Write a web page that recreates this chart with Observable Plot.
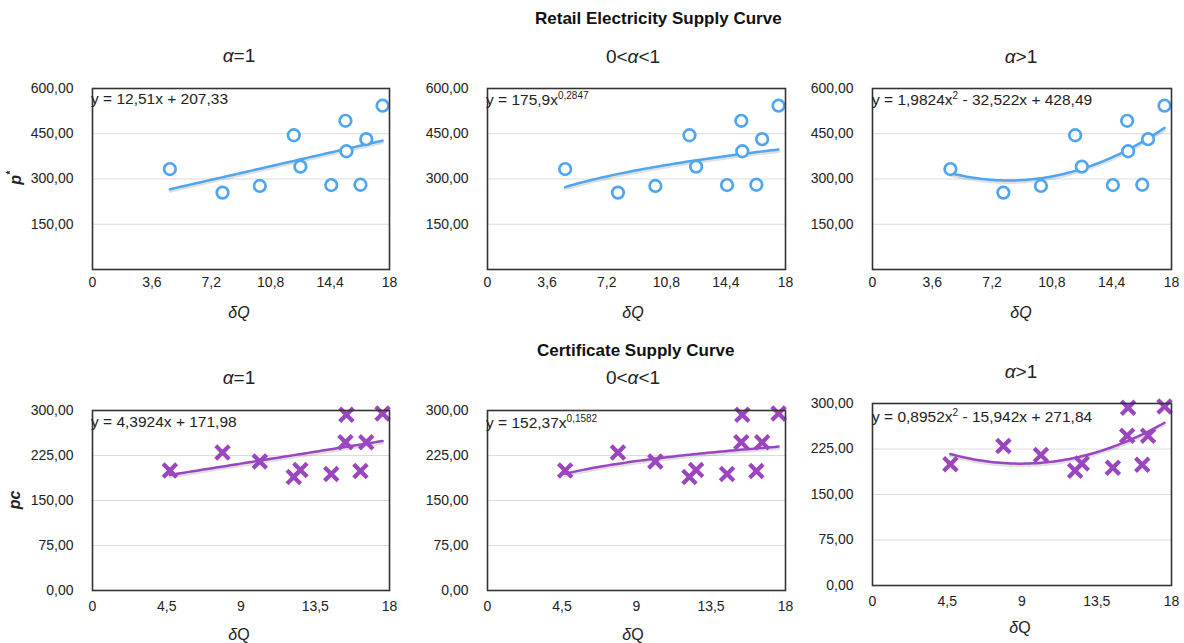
<!DOCTYPE html>
<html>
<head>
<meta charset="utf-8">
<script src="https://cdn.jsdelivr.net/npm/d3@7"></script>
<script src="https://cdn.jsdelivr.net/npm/@observablehq/plot@0.6"></script>
<style>
  html, body { margin: 0; padding: 0; background: #fff; }
  #root { position: relative; width: 1184px; height: 643px; font-family: "Liberation Sans", Arial, sans-serif; color: #222; overflow: hidden; }
  .abs { position: absolute; white-space: nowrap; }
  .c { transform: translate(-50%, -50%); }
  .title { font-weight: bold; font-size: 17px; transform: translateY(-50%); color: #111; }
  .sub { font-size: 19px; }
  .xl { font-size: 16px; }
  .eq { font-size: 15.5px; transform: translateY(-50%); }
  .eq sup { font-size: 10px; vertical-align: 6px; }
  .yl { font-size: 16px; font-weight: bold; font-style: italic; transform: translate(-50%, -50%) rotate(-90deg); }
  svg { overflow: visible; }
</style>
</head>
<body>
<div id="root"></div>
<script>
// ---- data ----
const dQ = [4.69, 7.88, 10.14, 12.2, 12.6, 14.47, 15.33, 15.39, 16.24, 16.59, 17.58];
const pStar = [333, 255, 277, 445, 341, 280, 493, 392, 281, 432, 543];
const pc = [200, 230, 215, 189, 201, 194, 247, 293, 199, 247, 295];

const topYTicks = [150, 300, 450, 600];
const botYTicks = [0, 75, 150, 225, 300];
const topXTicks = [0, 3.6, 7.2, 10.8, 14.4, 18];
const botXTicks = [0, 4.5, 9, 13.5, 18];

// trend-line coefficients as shown in the chart's equations
const retailLinear = [12.51, 207.33];          // y = a x + b
const retailPower = [175.9, 0.2847];           // y = a x^b
const retailQuad = [1.9824, -32.522, 428.49];  // y = a x^2 + b x + c
const certLinear = [4.3924, 171.98];
const certPower = [152.37, 0.1582];
const certQuad = [0.8952, -15.942, 271.84];

const subtitles = ["\u03B1=1", "0<\u03B1<1", "\u03B1>1"];

const blue = "#4ea5f2";
const purple = "#9b45c0";
const fmt = d => d.toFixed(2).replace(".", ",");
const fmtX = d => String(d).replace(".", ",");

const root = document.getElementById("root");
function addDiv(cls, html, left, top) {
  const d = document.createElement("div");
  d.className = "abs " + cls;
  d.innerHTML = html;
  d.style.left = left + "px";
  d.style.top = top + "px";
  root.appendChild(d);
  return d;
}

function curve(fn) {
  const x0 = d3.min(dQ), x1 = d3.max(dQ);
  return d3.range(0, 61).map(i => { const x = x0 + (x1 - x0) * i / 60; return {x, y: fn(x)}; });
}

const fits = {
  retail: [x => retailLinear[0] * x + retailLinear[1],
           x => retailPower[0] * Math.pow(x, retailPower[1]),
           x => retailQuad[0] * x * x + retailQuad[1] * x + retailQuad[2]],
  cert: [x => certLinear[0] * x + certLinear[1],
         x => certPower[0] * Math.pow(x, certPower[1]),
         x => certQuad[0] * x * x + certQuad[1] * x + certQuad[2]]
};

const panelLefts = [0, 395, 780];
const panelWidths = [409, 410, 403];
const panelMR = [20, 20, 12];

function panel(row, col, top, height, tickPad) {
  const isTop = row === 0;
  const ys = isTop ? pStar : pc;
  const pts = dQ.map((x, i) => ({x, y: ys[i]}));
  const color = isTop ? blue : purple;
  const line = curve((isTop ? fits.retail : fits.cert)[col]);
  const chart = Plot.plot({
    width: panelWidths[col],
    height,
    marginLeft: 92,
    marginRight: panelMR[col],
    marginTop: 18,
    marginBottom: 21,
    style: {fontFamily: "Liberation Sans, Arial, sans-serif", fontSize: "14px", color: "#222", background: "transparent", overflow: "visible"},
    x: {domain: [0, 18]},
    y: {domain: isTop ? [0, 600] : [0, 300]},
    marks: [
      Plot.gridY(isTop ? [150, 300, 450] : [75, 150, 225], {stroke: "#dcdcdc", strokeOpacity: 1}),
      Plot.axisY(isTop ? topYTicks : botYTicks, {tickSize: 0, tickPadding: 19, tickFormat: fmt, label: null, fontSize: 14}),
      Plot.axisX(isTop ? topXTicks : botXTicks, {tickSize: 0, tickPadding: tickPad, tickFormat: fmtX, label: null, fontSize: 14}),
      Plot.line(line, {x: "x", y: "y", stroke: "#000", strokeOpacity: 0.12, strokeWidth: 3, dy: 2}),
      Plot.line(line, {x: "x", y: "y", stroke: color, strokeWidth: 2.5}),
      isTop
        ? Plot.dot(pts, {x: "x", y: "y", r: 5.8, stroke: color, strokeWidth: 2.7, fill: "white"})
        : Plot.dot(pts, {x: "x", y: "y", symbol: "times", r: 6.2, stroke: color, strokeWidth: 4.2}),
      Plot.frame({stroke: "#333", strokeWidth: 1.6})
    ]
  });
  chart.style.position = "absolute";
  chart.style.left = panelLefts[col] + "px";
  chart.style.top = top + "px";
  root.appendChild(chart);
}

// titles
addDiv("title", "Retail Electricity Supply Curve", 535, 19);
addDiv("title", "Certificate Supply Curve", 537, 351);

// top row
for (let c = 0; c < 3; c++) panel(0, c, 70, 220, 8);
// bottom row
panel(1, 0, 392, 219, 11);
panel(1, 1, 392, 219, 11);
panel(1, 2, 385, 221, 11);

// subtitles
const subX = [239, 633, 1021];
const subYTop = [56, 57, 57];
const subYBot = [378, 378, 372];
subtitles.forEach((s, i) => {
  const html = s.replace("\u03B1", "<i>\u03B1</i>");
  addDiv("sub c", html, subX[i], subYTop[i]);
  addDiv("sub c", html, subX[i], subYBot[i]);
});

// x labels
[239, 633, 1021].forEach(x => addDiv("xl c", "<i>\u03B4Q</i>", x, 313));
addDiv("xl c", "<i>\u03B4</i>Q", 239, 635);
addDiv("xl c", "<i>\u03B4</i>Q", 633, 635);
addDiv("xl c", "<i>\u03B4</i>Q", 1020, 628);

// y labels
addDiv("yl", "p<sup style='font-size:10px'>*</sup>", 15, 178);
addDiv("yl", "pc", 15, 500);

// equations
addDiv("eq", "y = 12,51x + 207,33", 91, 99);
addDiv("eq", "y = 175,9x<sup>0,2847</sup>", 486, 99);
addDiv("eq", "y = 1,9824x<sup>2</sup> - 32,522x + 428,49", 872, 99);
addDiv("eq", "y = 4,3924x + 171,98", 91, 422);
addDiv("eq", "y = 152,37x<sup>0,1582</sup>", 486, 422);
addDiv("eq", "y = 0,8952x<sup>2</sup> - 15,942x + 271,84", 872, 416);
</script>
</body>
</html>
